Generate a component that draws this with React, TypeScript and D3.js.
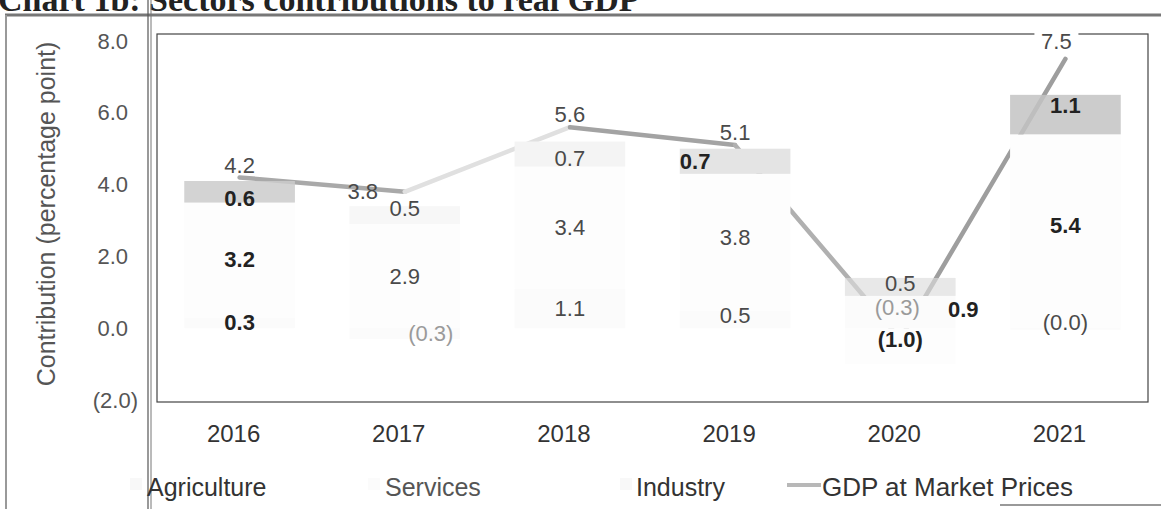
import React from "react";
import * as d3 from "d3";

// ---------- data ----------
const years = ["2016", "2017", "2018", "2019", "2020", "2021"];
const agriculture = [0.3, -0.3, 1.1, 0.5, 0.9, -0.04];
const services = [3.2, 2.9, 3.4, 3.8, -1.0, 5.4];
const industry = [0.6, 0.5, 0.7, 0.7, 0.5, 1.1];
const gdp = [4.2, 3.8, 5.6, 5.1, -0.3, 7.5];
const yTicks = [-2, 0, 2, 4, 6, 8];
const seriesNames = ["Agriculture", "Services", "Industry"];
const lineName = "GDP at Market Prices";
const titleText = "Chart 1b: Sectors contributions to real GDP";
const yTitle = "Contribution (percentage point)";

// ---------- styling (faded scan look) ----------
const W = 1161;
const H = 509;
const plot = { left: 157, right: 1148, top: 34, bottom: 402 };
const seriesFill: Record<string, string> = {
  Agriculture: "#fbfbfb",
  Services: "#fdfdfd",
  Industry: "#c4c4c4",
};
const industryTone = ["#cbcbcb", "#f7f7f7", "#f4f4f4", "#e4e4e4", "#dcdcdc", "#c3c3c3"];
const industryOpacity = [0.85, 1, 1, 1, 0.65, 0.85];
const lineTone = ["#a9a9a9", "#e0e0e0", "#a3a3a3", "#b0b0b0", "#9e9e9e"];
// label nudges [dx, dy]
const segNudge: Record<string, [number, number][]> = {
  Agriculture: [[0, 0], [26, 0], [0, 0], [0, -4], [63, -3], [0, -6]],
  Services: [[0, 0], [0, 0], [0, 0], [0, -5], [0, -7], [0, -6]],
  Industry: [[0, 7], [0, -7], [0, 4], [-40, 0], [0, -3], [0, -9]],
};
const gdpNudge: [number, number][] = [[0, -12], [-42, 0], [0, -13], [0, -13], [-3, -31], [-9, -17]];
// print weight of labels in the scan
const boldLabels = new Set(["Agriculture-0", "Services-0", "Industry-0", "Industry-3", "Agriculture-4", "Services-4", "Industry-5", "Services-5"]);
const lightLabels = new Set(["Agriculture-1", "GDP-4"]);

const fmt = (v: number) => {
  const s = d3.format(".1f")(Math.abs(v));
  return v < 0 ? `(${s})` : s;
};

export default function App() {
  const x = d3.scaleBand<string>().domain(years).range([plot.left, plot.right]).paddingInner(0.33).paddingOuter(0.165);
  const y = d3.scaleLinear().domain([-2, 8]).range([400, 41]);
  const cx = (i: number) => (x(years[i]) as number) + x.bandwidth() / 2;

  const rows = years.map((yr, i) => ({
    year: yr,
    Agriculture: agriculture[i],
    Services: services[i],
    Industry: industry[i],
  }));
  const stack = d3.stack<any>().keys(seriesNames).offset(d3.stackOffsetDiverging);
  const layers = stack(rows);

  const seg = d3
    .line<[number, number]>()
    .x((p) => p[0])
    .y((p) => p[1]);

  const font = "'Liberation Sans', Arial, sans-serif";
  const tone = (key: string) => (boldLabels.has(key) ? "#222" : lightLabels.has(key) ? "#9a9a9a" : "#4a4a4a");

  return (
    <svg width={W} height={H} style={{ position: "absolute", left: 0, top: 0, background: "#fff" }} fontFamily={font}>
      <rect x={0} y={0} width={W} height={H} fill="#fff" />
      {/* clipped scan title */}
      <text x={-2} y={11} fontFamily="'Liberation Serif', 'Times New Roman', serif" fontWeight="bold" fontSize={34} fill="#222">
        {titleText}
      </text>
      {/* scan frame */}
      <line x1={5} y1={15} x2={W} y2={15} stroke="#777" strokeWidth={3} />
      <line x1={6} y1={15} x2={6} y2={H} stroke="#999" strokeWidth={2} />
      <line x1={1000} y1={505} x2={W} y2={505} stroke="#999" strokeWidth={2} />
      <line x1={148} y1={0} x2={148} y2={H} stroke="#555" strokeWidth={1.2} />
      <line x1={151} y1={0} x2={151} y2={H} stroke="#777" strokeWidth={1} />

      {/* plot frame */}
      <rect x={plot.left} y={plot.top} width={plot.right - plot.left} height={plot.bottom - plot.top} fill="none" stroke="#444" strokeWidth={1.2} />

      {/* GDP line (under the bars, as printed) */}
      {gdp.slice(0, -1).map((v, i) => (
        <path
          key={i}
          d={seg([
            [cx(i), y(v)],
            [cx(i + 1), y(gdp[i + 1])],
          ]) as string}
          stroke={lineTone[i]}
          strokeWidth={4.5}
          fill="none"
          strokeLinecap="round"
        />
      ))}

      {/* bars */}
      {layers.map((layer) => (
        <g key={layer.key}>
          {layer.map((d, i) => (
            <rect
              key={i}
              x={x(years[i])}
              width={x.bandwidth()}
              y={y(Math.max(d[0], d[1]))}
              height={Math.abs(y(d[0]) - y(d[1]))}
              fill={layer.key === "Industry" ? industryTone[i] : seriesFill[layer.key]}
              fillOpacity={layer.key === "Industry" ? industryOpacity[i] : 1}
            />
          ))}
        </g>
      ))}

      {/* segment labels */}
      {layers.map((layer) => (
        <g key={layer.key + "l"}>
          {layer.map((d, i) => {
            const [dx, dy] = segNudge[layer.key][i];
            const k = `${layer.key}-${i}`;
            return (
              <text
                key={i}
                x={cx(i) + dx}
                y={y((d[0] + d[1]) / 2) + dy}
                textAnchor="middle"
                dominantBaseline="central"
                fontSize={22}
                fill={tone(k)}
                fontWeight={boldLabels.has(k) ? "bold" : "normal"}
              >
                {fmt(d.data[layer.key])}
              </text>
            );
          })}
        </g>
      ))}

      {/* GDP labels */}
      {gdp.map((v, i) => {
        const lx = cx(i) + gdpNudge[i][0];
        const ly = y(v) + gdpNudge[i][1];
        const w = fmt(v).length * 12 + 8;
        return (
          <g key={i}>
            {i === 5 && <rect x={lx - w / 2} y={ly - 11} width={w} height={22} fill="#fff" />}
            <text x={lx} y={ly} textAnchor="middle" dominantBaseline="central" fontSize={22} fill={tone(`GDP-${i}`)}>
              {fmt(v)}
            </text>
          </g>
        );
      })}

      {/* y axis ticks */}
      {yTicks.map((t) => (
        <text key={t} x={t < 0 ? 138 : 128} y={y(t)} textAnchor="end" dominantBaseline="central" fontSize={22} fill="#555">
          {t < 0 ? `(${d3.format(".1f")(-t)})` : d3.format(".1f")(t)}
        </text>
      ))}
      <text
        transform={`translate(46,214) rotate(-90)`}
        textAnchor="middle"
        dominantBaseline="central"
        fontSize={25}
        fill="#555"
      >
        {yTitle}
      </text>

      {/* x axis labels */}
      {years.map((yr, i) => (
        <text key={yr} x={cx(i) - 6} y={433} textAnchor="middle" dominantBaseline="central" fontSize={24} fill="#333">
          {yr}
        </text>
      ))}

      {/* legend */}
      <g fontSize={25} fill="#333">
        <rect x={130} y={478} width={12} height={12} fill="#f8f8f8" />
        <text x={147} y={487} dominantBaseline="central">{seriesNames[0]}</text>
        <rect x={368} y={478} width={12} height={12} fill="#fbfbfb" />
        <text x={385} y={487} dominantBaseline="central" fill="#555">{seriesNames[1]}</text>
        <rect x={620} y={478} width={12} height={12} fill="#f8f8f8" />
        <text x={636} y={487} dominantBaseline="central">{seriesNames[2]}</text>
        <line x1={787} y1={485} x2={821} y2={485} stroke="#b8b8b8" strokeWidth={4} />
        <text x={822} y={487} dominantBaseline="central" fontSize={26}>{lineName}</text>
      </g>
    </svg>
  );
}
